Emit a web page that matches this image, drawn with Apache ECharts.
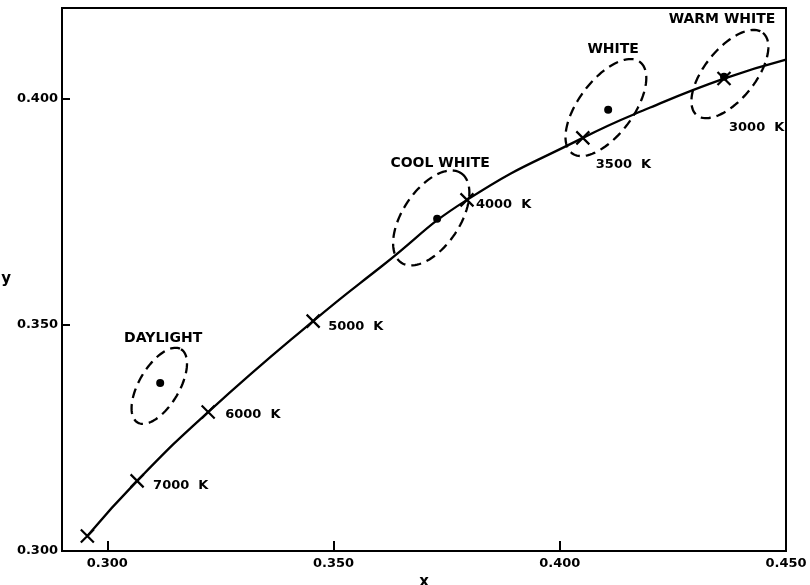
<!DOCTYPE html>
<html>
<head>
<meta charset="utf-8">
<script src="https://cdn.jsdelivr.net/npm/echarts@6/dist/echarts.min.js"></script>
<style>html,body{margin:0;padding:0;background:#fff}#c{width:810px;height:585px}</style>
</head>
<body>
<div id="c"></div>
<script>
// Planckian locus curve
const locusX = [0.2956, 0.3066, 0.3223, 0.3455, 0.3610, 0.3795, 0.4051, 0.4200, 0.4363, 0.4500];
const locusY = [0.3033, 0.3155, 0.3307, 0.3508, 0.3632, 0.3776, 0.3913, 0.3980, 0.4044, 0.4086];
// Colour-temperature marks on the curve
const tempNames = ['', '7000 K', '6000 K', '5000 K', '4000 K', '3500 K', '3000 K'];
const tempX = [0.2956, 0.3066, 0.3223, 0.3455, 0.3795, 0.4051, 0.4363];
const tempY = [0.3033, 0.3155, 0.3307, 0.3508, 0.3776, 0.3913, 0.4044];
// Lamp chromaticities
const lampNames = ['DAYLIGHT', 'COOL WHITE', 'WHITE', 'WARM WHITE'];
const lampX = [0.3117, 0.3729, 0.4107, 0.4363];
const lampY = [0.3371, 0.3734, 0.3975, 0.4048];
// Tolerance ellipses: centre, major-axis tip, minor/major ratio
const ellCX = [0.3115, 0.3716, 0.4102, 0.4376];
const ellCY = [0.3365, 0.3736, 0.3980, 0.4054];
const ellTX = [0.3163, 0.3782, 0.4177, 0.4449];
const ellTY = [0.3446, 0.3835, 0.4081, 0.4145];
const ellRatio = [0.47, 0.53, 0.48, 0.48];
// Tick labels
const xTicks = [0.300, 0.350, 0.400, 0.450];
const yLabels = [0.300, 0.350, 0.400];
const yTicks = [0.350, 0.400];

const FONT = 'DejaVu Sans';
const INK = '#000';
const tempLabelOffsets = [[0,0],[5,5],[6,3],[4,5],[-2,5],[2,27],[-6,49]];
const lampLabelOffsets = [[3,-45],[3,-56],[5,-60],[-2,-57]];

const crossPath = 'path://M0,0L10,10M10,0L0,10';

const chart = echarts.init(document.getElementById('c'), null, {renderer: 'canvas'});
const option = {
  animation: false,
  grid: {left: 62, right: 24, top: 8, bottom: 34, show: true, borderColor: INK, borderWidth: 2,
    containLabel: false, outerBoundsMode: 'none'},
  xAxis: {
    type: 'value', min: 0.29, max: 0.45,
    name: 'x', nameLocation: 'middle', nameGap: 21,
    nameTextStyle: {fontFamily: FONT, fontWeight: 'bold', fontSize: 15, color: INK},
    axisLine: {show: true, onZero: false, lineStyle: {color: INK, width: 2}},
    splitLine: {show: false},
    axisTick: {show: true, inside: true, length: 10, customValues: xTicks, lineStyle: {color: INK, width: 2}},
    axisLabel: {customValues: xTicks, margin: 6, formatter: v => v.toFixed(3),
      fontFamily: FONT, fontWeight: 'bold', fontSize: 13, color: INK}
  },
  yAxis: {
    type: 'value', min: 0.30, max: 0.42,
    name: 'y', nameLocation: 'middle', nameGap: 45, nameRotate: 0,
    nameTextStyle: {fontFamily: FONT, fontWeight: 'bold', fontSize: 15, color: INK},
    axisLine: {show: true, onZero: false, lineStyle: {color: INK, width: 2}},
    splitLine: {show: false},
    axisTick: {show: true, inside: true, length: 8, customValues: yTicks, lineStyle: {color: INK, width: 2}},
    axisLabel: {customValues: yLabels, margin: 4, formatter: v => v.toFixed(3),
      fontFamily: FONT, fontWeight: 'bold', fontSize: 13, color: INK}
  },
  series: [
    {
      type: 'line', smooth: 0.5, symbol: 'none',
      data: locusX.map((x, i) => [x, locusY[i]]),
      lineStyle: {color: INK, width: 2.3}, z: 3
    },
    {
      type: 'scatter', symbol: crossPath, symbolSize: 13,
      itemStyle: {color: 'none', borderColor: INK, borderWidth: 2.2, opacity: 1},
      data: tempX.map((x, i) => ({
        value: [x, tempY[i]], name: tempNames[i],
        label: {offset: tempLabelOffsets[i]}
      })),
      label: {show: true, position: 'right', distance: 2, formatter: p => p.name.replace(' ', '  '),
        fontFamily: FONT, fontWeight: 'bold', fontSize: 13, color: INK},
      z: 4
    },
    {
      type: 'scatter', symbol: 'circle', symbolSize: 8,
      itemStyle: {color: INK, opacity: 1},
      data: lampX.map((x, i) => ({
        value: [x, lampY[i]], name: lampNames[i],
        label: {offset: lampLabelOffsets[i]}
      })),
      label: {show: true, position: 'inside', formatter: p => p.name,
        fontFamily: FONT, fontWeight: 'bold', fontSize: 14, color: INK},
      z: 5
    },
    {
      type: 'custom',
      data: ellCX.map((x, i) => [x, ellCY[i], ellTX[i], ellTY[i], ellRatio[i]]),
      renderItem: function (params, api) {
        const c = api.coord([api.value(0), api.value(1)]);
        const t = api.coord([api.value(2), api.value(3)]);
        const vx = t[0] - c[0], vy = t[1] - c[1];
        const a = Math.sqrt(vx * vx + vy * vy);
        const b = a * api.value(4);
        const ux = vx / a, uy = vy / a;
        const pts = [];
        for (let k = 0; k < 96; k++) {
          const th = k / 96 * Math.PI * 2;
          const ca = Math.cos(th) * a, sb = Math.sin(th) * b;
          pts.push([c[0] + ux * ca - uy * sb, c[1] + uy * ca + ux * sb]);
        }
        return {
          type: 'polygon', shape: {points: pts},
          style: {fill: 'none', stroke: INK, lineWidth: 2.3, lineDash: [10, 6]}
        };
      },
      z: 2
    }
  ]
};
chart.setOption(option);
</script>
</body>
</html>
